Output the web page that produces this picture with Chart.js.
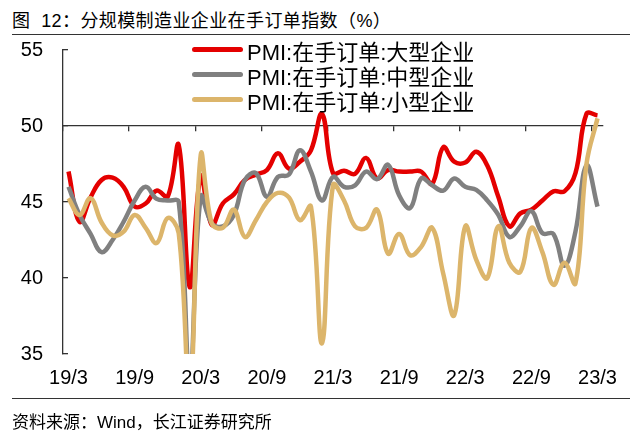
<!DOCTYPE html>
<html>
<head>
<meta charset="utf-8">
<script src="https://cdn.jsdelivr.net/npm/chart.js@4.4.0/dist/chart.umd.min.js"></script>
<style>
  body { margin: 0; width: 640px; height: 433px; background: #fff; position: relative; overflow: hidden;
         font-family: "Liberation Sans", "Noto Sans CJK SC", sans-serif; color: #000; }
  #title { position: absolute; left: 12px; top: 6px; font-size: 18px; letter-spacing: 0.4px; white-space: pre; }
  .rule { position: absolute; left: 12px; width: 618px; border-top: 1.5px solid #333; }
  #source { position: absolute; left: 12px; top: 408px; font-size: 17px; white-space: nowrap; }
  #chart { position: absolute; left: 0; top: 0; }
  #legend { position: absolute; left: 192px; top: 37px; }
  #legend .item { height: 25px; display: flex; align-items: center; font-size: 22px; white-space: nowrap; }
  #legend .swatch { width: 51px; height: 5px; border-radius: 2.5px; margin-right: 4px; }
</style>
</head>
<body>
<div id="title">图  12：分规模制造业企业在手订单指数（%）</div>
<div class="rule" style="top:34px"></div>
<canvas id="chart" width="640" height="433"></canvas>
<div id="legend"></div>
<div class="rule" style="top:398px"></div>
<div id="source">资料来源：Wind，长江证券研究所</div>
<script>
// 2019/3 .. 2023/3, monthly
const months = [
  '19/3','19/4','19/5','19/6','19/7','19/8','19/9','19/10','19/11','19/12',
  '20/1','20/2','20/3','20/4','20/5','20/6','20/7','20/8','20/9','20/10','20/11','20/12',
  '21/1','21/2','21/3','21/4','21/5','21/6','21/7','21/8','21/9','21/10','21/11','21/12',
  '22/1','22/2','22/3','22/4','22/5','22/6','22/7','22/8','22/9','22/10','22/11','22/12',
  '23/1','23/2','23/3'
];
const tickLabels = ['19/3','19/9','20/3','20/9','21/3','21/9','22/3','22/9','23/3'];

const large = [
  47.0, 43.7, 45.3, 46.45, 46.6, 46.0, 44.7, 44.9, 45.75, 45.35,
  48.75, 39.4, 46.7, 43.5, 44.9, 45.5, 46.45, 46.8, 47.1, 48.2, 47.2, 47.65,
  48.4, 50.8, 46.9, 47.05, 46.85, 47.9, 46.55, 47.1, 47.0, 47.0, 47.0, 46.2,
  48.6, 47.65, 47.6, 48.3, 47.4, 45.35, 43.4, 44.25, 44.5, 45.1, 45.7, 45.7,
  46.9, 50.8, 50.7
];
const medium = [
  46.0, 44.15, 42.9, 41.7, 42.5, 43.7, 45.1, 46.0, 45.2, 45.1,
  45.0, 33.5, 45.35, 43.6, 43.4, 44.15, 46.45, 46.9, 45.35, 46.65, 46.8, 48.4,
  47.0, 45.1, 46.65, 46.0, 46.1, 47.0, 46.5, 47.45, 45.45, 44.6, 46.55, 46.1,
  45.75, 46.55, 46.0, 45.8, 45.1, 44.15, 42.7, 43.4, 44.4, 42.95, 42.9, 40.8,
  43.05, 47.4, 44.7
];
const small = [
  45.25, 44.15, 45.25, 43.65, 42.8, 43.05, 44.15, 43.3, 42.3, 43.95,
  42.95, 32.0, 48.1, 43.6, 43.3, 44.5, 42.7, 43.8, 45.0, 45.6, 45.3, 43.8,
  44.7, 35.7, 46.1, 45.1, 43.4, 43.3, 44.5, 41.6, 42.9, 41.5, 42.05, 43.3,
  40.3, 37.55, 43.4, 41.2, 40.0, 43.4, 41.0, 40.4, 43.3, 41.7, 39.55, 41.0,
  39.65, 47.5, 50.5
];

const font = { family: '"Liberation Sans", "Noto Sans CJK SC", sans-serif', size: 20 };
const axisColor = '#333';

function lineSet(label, data, color, order) {
  return {
    label: label,
    data: data,
    borderColor: color,
    backgroundColor: color,
    borderWidth: 4.5,
    pointRadius: 0,
    tension: 0.4,
    fill: false,
    order: order
  };
}

const chart = new Chart(document.getElementById('chart'), {
  type: 'line',
  data: {
    labels: months,
    datasets: [
      lineSet('PMI:在手订单:大型企业', large, '#E40000', 3),
      lineSet('PMI:在手订单:中型企业', medium, '#808080', 2),
      lineSet('PMI:在手订单:小型企业', small, '#DCB56B', 1)
    ]
  },
  options: {
    responsive: false,
    animation: false,
    layout: { padding: { left: 0, right: 37, top: 50, bottom: 39 } },
    plugins: { legend: { display: false }, tooltip: { enabled: false } },
    scales: {
      x: {
        offset: true,
        grid: { display: false, drawTicks: false },
        border: { display: false },
        ticks: {
          autoSkip: false, maxRotation: 0, minRotation: 0, padding: 12,
          color: '#000', font: font,
          callback: (v, i) => tickLabels.includes(months[i]) ? months[i] : ''
        },
        afterFit: s => { s.height = 40; }
      },
      x2: {
        type: 'category',
        position: { y: 50 },
        offset: true,
        ticks: { display: false },
        grid: {
          offset: true, drawOnChartArea: false, drawTicks: true, tickLength: 5, lineWidth: 1.3,
          color: c => (c.index !== undefined && c.index % 6 === 0) ? axisColor : 'rgba(0,0,0,0)'
        },
        border: { color: axisColor, width: 1.3 },
        afterFit: s => { s.height = 0; }
      },
      y: {
        min: 35, max: 55,
        ticks: { stepSize: 5, padding: 25, color: '#000', font: font },
        grid: { drawOnChartArea: false, tickLength: -5, lineWidth: 1.3, color: axisColor },
        border: { color: axisColor, width: 1.3 },
        afterFit: s => { s.width = 63; }
      }
    }
  }
});

// legend built from the datasets
const legendBox = document.getElementById('legend');
chart.data.datasets.forEach(ds => {
  const item = document.createElement('div');
  item.className = 'item';
  const sw = document.createElement('span');
  sw.className = 'swatch';
  sw.style.background = ds.borderColor;
  const txt = document.createElement('span');
  txt.textContent = ds.label;
  item.appendChild(sw);
  item.appendChild(txt);
  legendBox.appendChild(item);
});
</script>
</body>
</html>
